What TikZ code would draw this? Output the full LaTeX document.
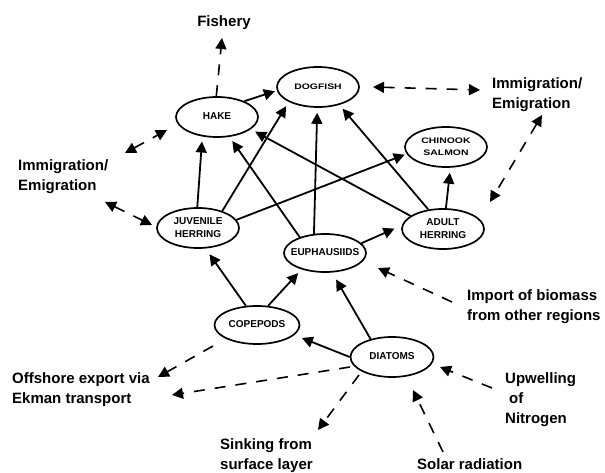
\documentclass[tikz,border=0pt]{standalone}
\usepackage{fontspec}
\setmainfont{Liberation Sans}
\newfontfamily\widefont[FakeStretch=1.3]{Liberation Sans}
\usetikzlibrary{arrows.meta,shapes.geometric}
\newcommand\lbl[1]{\makebox[0pt]{\begin{tabular}{@{}c@{}}#1\end{tabular}}}
\begin{document}
\begin{tikzpicture}[x=1pt,y=-1pt,
  sp/.style={ellipse,draw,line width=1.7pt,minimum width=82pt,minimum height=40pt,inner sep=0pt,
    font=\bfseries\fontsize{10}{13}\selectfont},
  spw/.style={sp,font=\widefont\bfseries\fontsize{8}{11.5}\selectfont},
  lab/.style={font=\bfseries\fontsize{15}{20}\selectfont,inner sep=0pt,align=left},
  tip/.tip={Triangle[length=11pt,width=11pt]},
  feed/.style={line width=1.8pt,-tip,shorten >=5pt},
  flux/.style={line width=1.6pt,dash pattern=on 11pt off 10pt,-tip},
  both/.style={line width=1.6pt,dash pattern=on 11pt off 10pt,tip-tip}]
\useasboundingbox (0,0) rectangle (605,473);
% species nodes
\node[sp] (H) at (217,117) {\lbl{HAKE}};
\node[spw] (D) at (318,87) {\lbl{DOGFISH}};
\node[spw] (C) at (446,147) {\lbl{CHINOOK\\SALMON}};
\node[sp] (J) at (198,228) {\lbl{JUVENILE\\HERRING}};
\node[sp,minimum height=38pt] (E) at (325,253) {\lbl{EUPHAUSIIDS}};
\node[sp] (A) at (443,229) {\lbl{ADULT\\HERRING}};
\node[sp,minimum width=85pt,minimum height=38pt] (P) at (257,325) {\lbl{COPEPODS}};
\node[sp,minimum width=83pt] (T) at (392,357) {\lbl{DIATOMS}};
% text labels
\node[lab,anchor=base] (fish) at (224,27) {Fishery};
\node[lab,anchor=north west] (imL) at (18,159) {Immigration/\\Emigration};
\node[lab,anchor=north west] (imR) at (492,77) {Immigration/\\Emigration};
\node[lab,anchor=north west] (imp) at (467,289) {Import of biomass\\from other regions};
\node[lab,anchor=north west] (upw) at (505,372) {Upwelling\\\hspace*{4pt}of\\Nitrogen};
\node[lab,anchor=base west] (sol) at (417,469) {Solar radiation};
\node[lab,anchor=north west] (sink) at (220,438) {Sinking from\\surface layer};
\node[lab,anchor=north west] (off) at (12,372) {Offshore export via\\Ekman transport};
% feeding links
\draw[feed,shorten >=2pt] (H.30) -- (D.185);
\draw[feed] (J.92) -- (H.233);
\draw[feed] (J.35) -- (D.207);
\draw[feed,shorten >=2pt] (J.12) -- (C.190);
\draw[feed] (E.148) -- (H.302);
\draw[feed] (E.120) -- (D.268);
\draw[feed,shorten >=8pt] (E.15) -- (A.175);
\draw[feed] (A.158) -- (H.340);
\draw[feed] (A.127) -- (D.320);
\draw[feed] (A.82) -- (C.282);
\draw[feed,shorten >=7pt] (P.120) -- (J.290);
\draw[feed] (P.60) -- (E.215);
\draw[feed,shorten >=8pt] (T.180) -- (P.345);
\draw[feed,shorten >=8pt] (T.140) -- (E.290);
% free ends of fluxes
\coordinate (fishT) at (222,38);
\coordinate (l1a) at (125,153); \coordinate (l1b) at (167,130);
\coordinate (l2a) at (105,202); \coordinate (l2b) at (152,225);
\coordinate (r1a) at (373,87);  \coordinate (r1b) at (480,90);
\coordinate (r2a) at (542,115); \coordinate (r2b) at (490,202);
\coordinate (impS) at (452,302); \coordinate (impT) at (378,268);
\coordinate (upS) at (492,388); \coordinate (upT) at (440,367);
\coordinate (solS) at (443,452); \coordinate (solT) at (413,390);
\coordinate (sinkS) at (359,375); \coordinate (sinkT) at (318,430);
\coordinate (o1S) at (213,346); \coordinate (o1T) at (158,377);
\coordinate (o2S) at (350,367); \coordinate (o2T) at (172,395);
% fluxes
\draw[flux] (H.92) -- (fishT);
\draw[both] (l1a) -- (l1b);
\draw[both] (l2a) -- (l2b);
\draw[both] (r1a) -- (r1b);
\draw[both] (r2a) -- (r2b);
\draw[flux] (impS) -- (impT);
\draw[flux] (upS) -- (upT);
\draw[flux] (solS) -- (solT);
\draw[flux] (sinkS) -- (sinkT);
\draw[flux] (o1S) -- (o1T);
\draw[flux] (o2S) -- (o2T);
\end{tikzpicture}
\end{document}
